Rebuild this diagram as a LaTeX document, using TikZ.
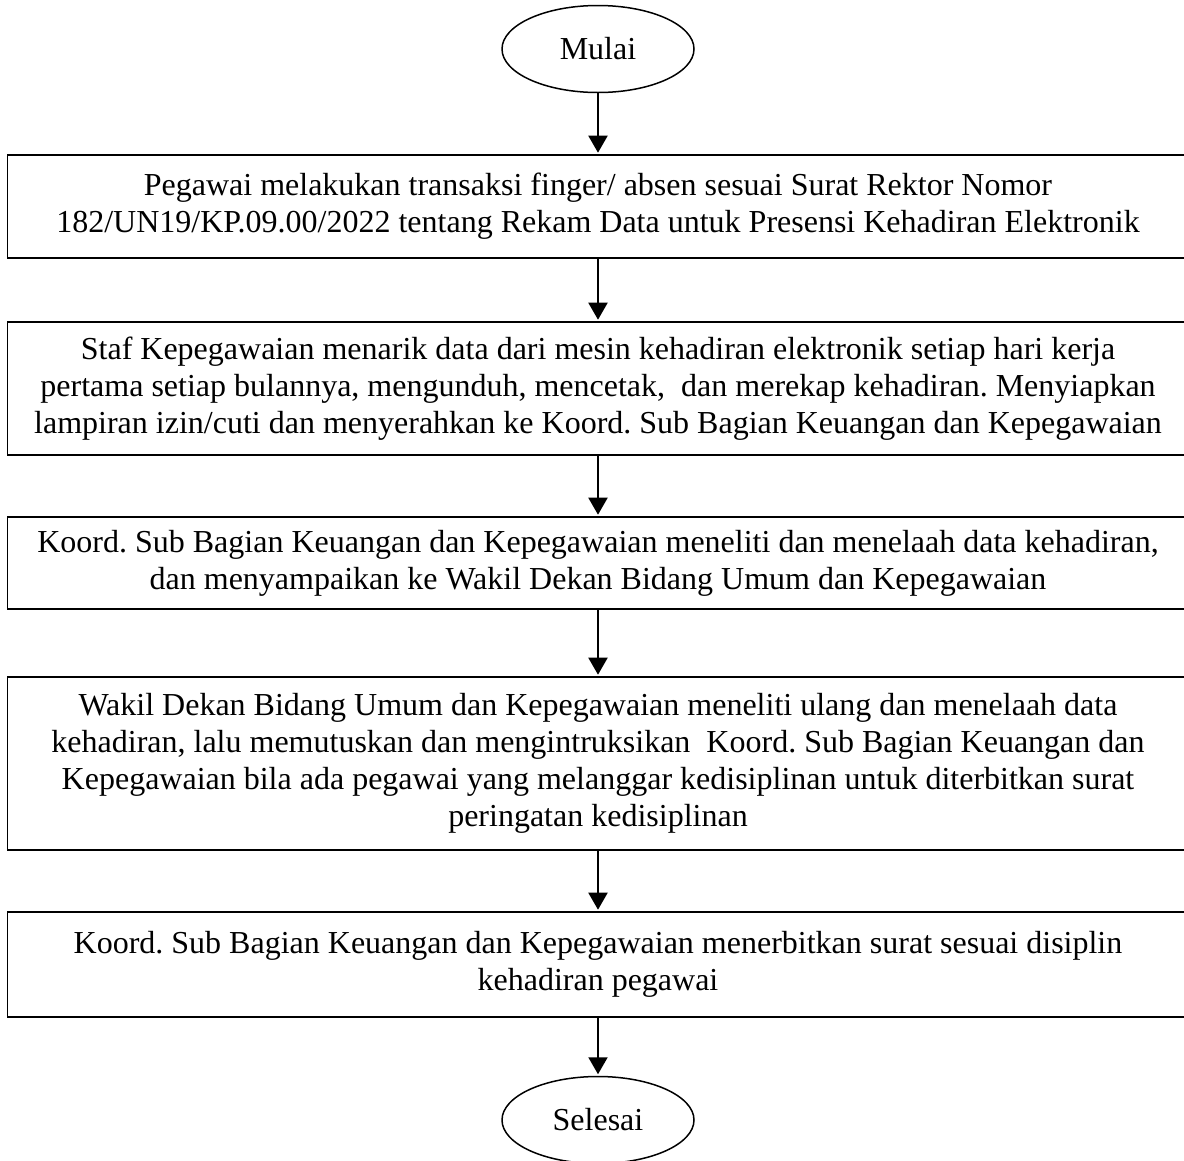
\documentclass[tikz,border=0pt]{standalone}
\usepackage{fontspec}
\setmainfont{Liberation Serif}
\usetikzlibrary{shapes.geometric,arrows.meta}
\frenchspacing
\tikzset{
  stepbox/.style={draw, line width=1.6pt, minimum width=1181pt, align=center, inner sep=0pt,
    font=\fontsize{32}{37}\selectfont},
  term/.style={draw, ellipse, line width=1.5pt, minimum width=192pt, minimum height=87pt, inner sep=0pt,
    font=\fontsize{32}{37}\selectfont},
  flow/.style={line width=2pt, -{Triangle[length=17pt,width=19pt]}, shorten >=1.5pt}
}
\begin{document}
\begin{tikzpicture}[x=1pt,y=-1pt]
\useasboundingbox (0,0) rectangle (1184,1160);
\node[term] (start) at (598,49) {Mulai};
\node[stepbox, minimum height=103pt] (b1) at (598,206.5) {Pegawai melakukan transaksi finger/ absen sesuai Surat Rektor Nomor\\182/UN19/KP.09.00/2022 tentang Rekam Data untuk Presensi Kehadiran Elektronik};
\node[stepbox, minimum height=133pt] (b2) at (598,388.5) {Staf Kepegawaian menarik data dari mesin kehadiran elektronik setiap hari kerja\\pertama setiap bulannya, mengunduh, mencetak,~ dan merekap kehadiran. Menyiapkan\\lampiran izin/cuti dan menyerahkan ke Koord. Sub Bagian Keuangan dan Kepegawaian};
\node[stepbox, minimum height=92pt] (b3) at (598,563) {Koord. Sub Bagian Keuangan dan Kepegawaian meneliti dan menelaah data kehadiran,\\dan menyampaikan ke Wakil Dekan Bidang Umum dan Kepegawaian};
\node[stepbox, minimum height=173pt] (b4) at (598,763.5) {Wakil Dekan Bidang Umum dan Kepegawaian meneliti ulang dan menelaah data\\kehadiran, lalu memutuskan dan mengintruksikan~ Koord. Sub Bagian Keuangan dan\\Kepegawaian bila ada pegawai yang melanggar kedisiplinan untuk diterbitkan surat\\peringatan kedisiplinan};
\node[stepbox, minimum height=105pt] (b5) at (598,964.5) {Koord. Sub Bagian Keuangan dan Kepegawaian menerbitkan surat sesuai disiplin\\kehadiran pegawai};
\node[term] (end) at (598,1120) {Selesai};
\draw[flow] (start.south) -- (b1.north);
\draw[flow] (b1.south) -- (b2.north);
\draw[flow] (b2.south) -- (b3.north);
\draw[flow] (b3.south) -- (b4.north);
\draw[flow] (b4.south) -- (b5.north);
\draw[flow] (b5.south) -- (end.north);
\end{tikzpicture}
\end{document}
